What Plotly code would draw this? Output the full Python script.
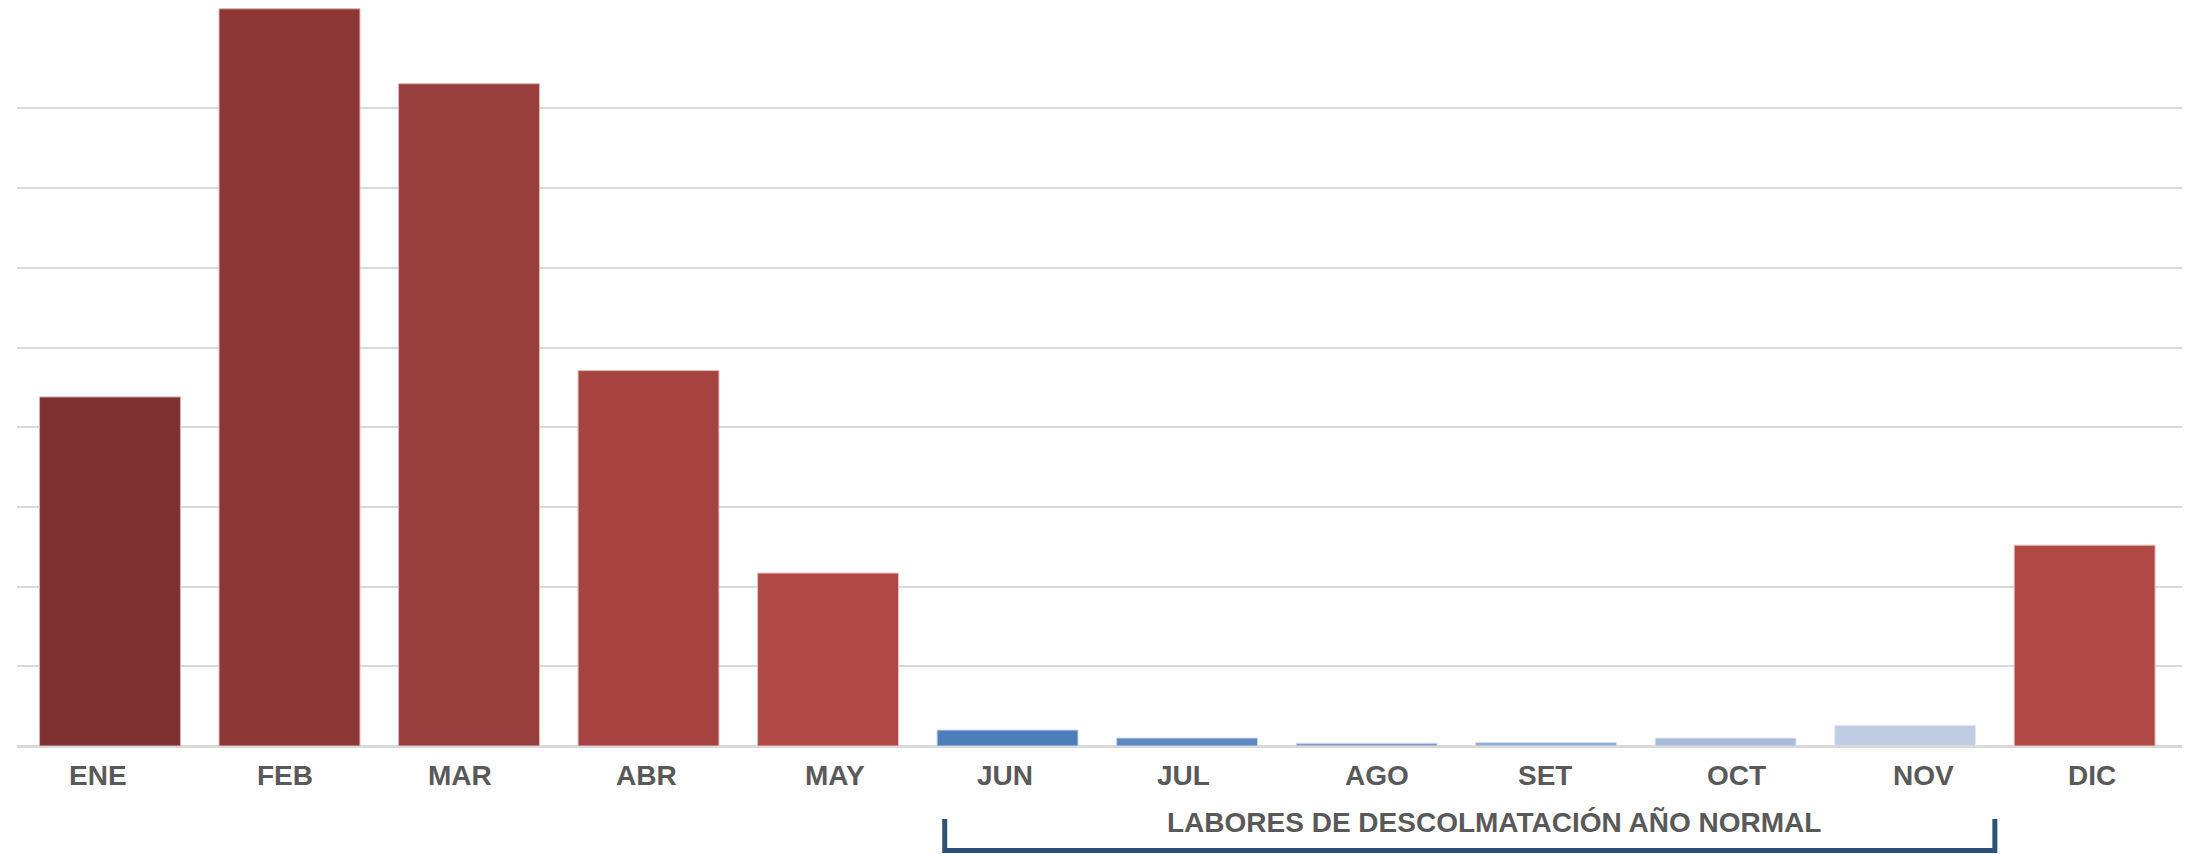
import plotly.graph_objects as go

months = ["ENE", "FEB", "MAR", "ABR", "MAY", "JUN", "JUL", "AGO", "SET", "OCT", "NOV", "DIC"]
values = [43.8, 92.5, 83.1, 47.1, 21.7, 2.0, 1.0, 0.35, 0.45, 1.0, 2.6, 25.2]
bar_colors = ["#7F3131", "#8C3736", "#983F3D", "#A54341", "#B04946", "#4E7EBA",
              "#5F88C2", "#7F9BCD", "#93AAD4", "#A9BADB", "#BFCCE3", "#B04946"]
edge_colors = ["#D9AFAF", "#DDB3B2", "#E0B7B6", "#E4BBBA", "#E6BFBE", "#C5D4EA",
               "#CAD6EC", "#D3DDEF", "#DAE2F1", "#E0E6F3", "#E6EBF5", "#E6BFBE"]
label_shift = [-12, -5, -9, -2, 7, -3, -4, 10, -1, 11, 18, 7]
grid_vals = [0, 10, 20, 30, 40, 50, 60, 70, 80]
bracket_label = "LABORES DE DESCOLMATACIÓN AÑO NORMAL"
bracket_start, bracket_end = 4.65, 10.5
label_pos = 7.71

fig = go.Figure(go.Bar(
    x=months, y=values,
    marker=dict(color=bar_colors, line=dict(color=edge_colors, width=1)),
    showlegend=False,
))

font_main = dict(family="Liberation Sans, Arial, sans-serif", size=28, color="#595959", weight="bold")

fig.update_layout(
    width=2182, height=846,
    margin=dict(l=9, r=7, t=0, b=108),
    paper_bgcolor="white", plot_bgcolor="white",
    bargap=0.215,
    xaxis=dict(
        range=[-0.518, 11.548], showgrid=False, zeroline=False, showline=False,
        ticks="", showticklabels=False,
    ),
    yaxis=dict(
        range=[0, 92.6], tickvals=grid_vals, showticklabels=False,
        showgrid=True, gridcolor="#D9D9D9", gridwidth=2,
        zeroline=True, zerolinecolor="#D9D9D9", zerolinewidth=3, showline=False,
    ),
)

for m, s in zip(months, label_shift):
    fig.add_annotation(
        x=m, y=-0.0405, xref="x", yref="paper", text=m, xshift=s,
        showarrow=False, font=font_main, xanchor="center", yanchor="middle",
    )

y_top, y_bot = -0.099, -0.1415
fig.add_shape(
    type="path", xref="x", yref="paper",
    path=f"M {bracket_start},{y_top} L {bracket_start},{y_bot} L {bracket_end},{y_bot} L {bracket_end},{y_top}",
    line=dict(color="#2E5178", width=5), layer="above",
)
fig.add_annotation(
    x=label_pos, y=-0.103, xref="x", yref="paper", text=bracket_label,
    showarrow=False, font=font_main, xanchor="center", yanchor="middle",
)

fig.write_html("out.html")
